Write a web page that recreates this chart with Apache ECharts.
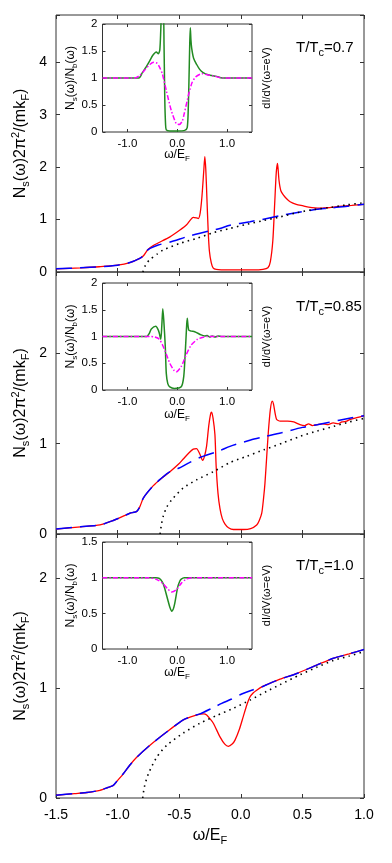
<!DOCTYPE html>
<html>
<head>
<meta charset="utf-8">
<script src="https://cdn.jsdelivr.net/npm/echarts@6.0.0/dist/echarts.min.js"></script>
<style>
  html, body { margin: 0; padding: 0; background: #fff; }
  #chart { width: 392px; height: 863px; }
</style>
</head>
<body>
<div id="chart"></div>
<script>
// ---- data: [omega/E_F, value] ----
// T/Tc = 0.7
const nsRed07 = [[-1.5,0.06],[-1.3,0.08],[-1.15,0.10],[-1.0,0.13],[-0.9,0.18],[-0.82,0.26],[-0.79,0.31],[-0.76,0.41],[-0.737,0.46],[-0.7,0.52],[-0.575,0.67],[-0.494,0.80],[-0.44,0.90],[-0.41,0.99],[-0.386,1.04],[-0.36,1.03],[-0.345,1.02],[-0.33,1.12],[-0.315,1.45],[-0.30,1.95],[-0.292,2.20],[-0.284,1.95],[-0.275,1.40],[-0.265,0.80],[-0.255,0.40],[-0.24,0.18],[-0.225,0.08],[-0.2,0.05],[-0.1,0.04],[0.0,0.04],[0.1,0.04],[0.18,0.05],[0.22,0.08],[0.24,0.20],[0.26,0.60],[0.275,1.30],[0.288,1.90],[0.298,2.07],[0.31,1.75],[0.325,1.55],[0.345,1.47],[0.37,1.40],[0.40,1.34],[0.45,1.29],[0.507,1.26],[0.55,1.235],[0.64,1.215],[0.7,1.225],[0.8,1.25],[0.9,1.27],[1.0,1.29]];
const nbBlue07 = [[-1.5,0.06],[-1.3,0.08],[-1.15,0.10],[-1.0,0.13],[-0.9,0.18],[-0.82,0.26],[-0.79,0.31],[-0.76,0.41],[-0.737,0.45],[-0.67,0.515],[-0.58,0.567],[-0.418,0.687],[-0.331,0.74],[-0.169,0.83],[-0.088,0.89],[0.075,0.96],[0.17,1.0],[0.33,1.08],[0.426,1.12],[0.616,1.195],[0.7,1.215],[0.85,1.25],[1.0,1.29]];
const free07 = [[-0.795,0],[-0.78,0.10],[-0.76,0.18],[-0.737,0.24],[-0.68,0.34],[-0.629,0.42],[-0.494,0.547],[-0.358,0.64],[-0.223,0.75],[-0.088,0.83],[0.048,0.91],[0.183,0.98],[0.318,1.05],[0.454,1.13],[0.589,1.19],[0.72,1.23],[0.86,1.28],[1.0,1.32]];
const ratio07 = [[-1.5,1],[-0.77,1],[-0.7,1.1],[-0.62,1.21],[-0.55,1.32],[-0.49,1.42],[-0.42,1.48],[-0.38,1.45],[-0.35,1.52],[-0.33,1.9],[-0.31,2.3],[-0.28,2.3],[-0.265,1.6],[-0.25,0.6],[-0.235,0.15],[-0.22,0.04],[-0.15,0.02],[0.0,0.02],[0.15,0.03],[0.2,0.08],[0.22,0.4],[0.235,0.95],[0.25,1.6],[0.262,1.93],[0.275,1.7],[0.29,1.55],[0.33,1.36],[0.39,1.25],[0.45,1.16],[0.52,1.10],[0.62,1.06],[0.79,1.03],[0.9,1.0],[1.5,1]];
const didv07 = [[-1.5,1],[-0.85,1],[-0.75,1.05],[-0.65,1.15],[-0.55,1.25],[-0.47,1.29],[-0.40,1.27],[-0.36,1.21],[-0.30,1.08],[-0.22,0.77],[-0.12,0.40],[-0.02,0.155],[0.04,0.14],[0.1,0.2],[0.14,0.34],[0.24,0.74],[0.30,0.92],[0.37,1.02],[0.5,1.08],[0.6,1.06],[0.72,1.04],[0.92,1.0],[1.5,1]];

// T/Tc = 0.85
const nsRed085 = [[-1.5,0.055],[-1.3,0.08],[-1.143,0.10],[-1.035,0.15],[-0.95,0.20],[-0.9,0.23],[-0.87,0.24],[-0.845,0.25],[-0.82,0.30],[-0.79,0.40],[-0.71,0.535],[-0.65,0.61],[-0.575,0.69],[-0.5,0.78],[-0.467,0.83],[-0.42,0.90],[-0.386,0.94],[-0.36,0.945],[-0.331,0.88],[-0.31,0.815],[-0.295,0.86],[-0.278,0.97],[-0.26,1.20],[-0.245,1.33],[-0.237,1.35],[-0.225,1.28],[-0.21,1.10],[-0.2,0.75],[-0.185,0.45],[-0.169,0.28],[-0.15,0.17],[-0.128,0.11],[-0.1,0.07],[-0.06,0.05],[0.02,0.05],[0.08,0.06],[0.129,0.10],[0.15,0.15],[0.17,0.23],[0.185,0.40],[0.196,0.56],[0.21,0.85],[0.223,1.12],[0.24,1.38],[0.255,1.47],[0.265,1.44],[0.29,1.27],[0.32,1.25],[0.38,1.25],[0.43,1.24],[0.48,1.21],[0.52,1.20],[0.55,1.22],[0.58,1.20],[0.62,1.21],[0.66,1.22],[0.7,1.21],[0.75,1.23],[0.79,1.22],[0.82,1.24],[0.86,1.25],[0.89,1.27],[0.95,1.29],[1.0,1.31]];
const nbBlue085 = [[-1.5,0.055],[-1.3,0.08],[-1.143,0.10],[-1.035,0.15],[-0.95,0.20],[-0.9,0.23],[-0.87,0.24],[-0.845,0.25],[-0.82,0.30],[-0.79,0.40],[-0.71,0.535],[-0.65,0.61],[-0.575,0.69],[-0.5,0.73],[-0.418,0.79],[-0.345,0.84],[-0.174,0.92],[-0.088,0.97],[0.08,1.04],[0.17,1.07],[0.33,1.12],[0.5,1.18],[0.62,1.21],[0.8,1.26],[1.0,1.31]];
const free085 = [[-0.655,0],[-0.645,0.10],[-0.629,0.20],[-0.6,0.30],[-0.56,0.38],[-0.467,0.51],[-0.358,0.60],[-0.223,0.69],[-0.088,0.79],[0.048,0.86],[0.183,0.93],[0.345,1.01],[0.48,1.08],[0.62,1.14],[0.75,1.19],[0.88,1.24],[1.0,1.28]];
const ratio085 = [[-1.5,1],[-0.61,1],[-0.56,1.06],[-0.52,1.14],[-0.43,1.19],[-0.38,1.12],[-0.36,1.06],[-0.33,0.95],[-0.31,1.2],[-0.29,1.52],[-0.27,1.3],[-0.24,0.81],[-0.22,0.31],[-0.19,0.12],[-0.15,0.06],[-0.06,0.03],[0.08,0.06],[0.13,0.25],[0.16,0.69],[0.18,1.05],[0.2,1.34],[0.23,1.12],[0.28,1.1],[0.35,1.09],[0.48,1.03],[0.55,1.01],[0.6,1.02],[0.65,0.99],[0.7,1.01],[0.76,0.99],[0.82,1.01],[0.9,1.0],[1.5,1]];
const didv085 = [[-1.5,1],[-0.55,1],[-0.45,0.99],[-0.36,0.95],[-0.3,0.85],[-0.24,0.72],[-0.15,0.50],[-0.06,0.36],[-0.02,0.34],[0.08,0.44],[0.18,0.66],[0.28,0.84],[0.41,0.95],[0.5,0.98],[0.61,1.0],[1.5,1]];

// T/Tc = 1.0
const nsRed10 = [[-1.5,0.025],[-1.35,0.04],[-1.25,0.05],[-1.143,0.07],[-1.08,0.095],[-1.035,0.115],[-1.0,0.16],[-0.954,0.22],[-0.9,0.30],[-0.845,0.37],[-0.737,0.48],[-0.602,0.60],[-0.467,0.71],[-0.4,0.74],[-0.331,0.763],[-0.3,0.765],[-0.277,0.754],[-0.25,0.72],[-0.223,0.68],[-0.169,0.556],[-0.13,0.49],[-0.101,0.47],[-0.07,0.49],[-0.047,0.526],[-0.01,0.63],[0.02,0.74],[0.05,0.85],[0.075,0.92],[0.1,0.955],[0.129,0.98],[0.17,1.01],[0.21,1.03],[0.318,1.08],[0.45,1.13],[0.62,1.21],[0.75,1.27],[0.88,1.31],[1.0,1.35]];
const nbBlue10 = [[-1.5,0.025],[-1.35,0.04],[-1.25,0.05],[-1.143,0.07],[-1.08,0.095],[-1.035,0.115],[-1.0,0.16],[-0.954,0.22],[-0.9,0.30],[-0.845,0.37],[-0.737,0.48],[-0.602,0.60],[-0.467,0.71],[-0.4,0.74],[-0.331,0.765],[-0.236,0.815],[-0.155,0.86],[-0.074,0.90],[0.007,0.945],[0.088,0.98],[0.17,1.01],[0.21,1.03],[0.318,1.08],[0.45,1.13],[0.62,1.21],[0.75,1.27],[0.88,1.31],[1.0,1.35]];
const free10 = [[-0.796,0],[-0.783,0.10],[-0.75,0.22],[-0.683,0.37],[-0.6,0.48],[-0.467,0.59],[-0.331,0.68],[-0.196,0.75],[-0.061,0.815],[0.075,0.89],[0.21,0.97],[0.318,1.03],[0.48,1.12],[0.62,1.19],[0.75,1.25],[0.88,1.29],[1.0,1.33]];
const ratio10 = [[-1.5,1],[-0.43,1],[-0.36,0.99],[-0.3,0.94],[-0.26,0.87],[-0.19,0.69],[-0.15,0.59],[-0.11,0.53],[-0.08,0.56],[-0.05,0.64],[0.01,0.87],[0.05,0.95],[0.08,0.98],[0.14,1.0],[1.5,1]];
const didv10 = [[-1.5,1],[-0.6,1],[-0.43,0.98],[-0.29,0.92],[-0.19,0.84],[-0.11,0.80],[-0.02,0.83],[0.08,0.92],[0.18,0.98],[0.32,1.0],[1.5,1]];

const tempLabels = ['0.7', '0.85', '1.0'];
const insetXTicks = [-1, 0, 1];

// ---- layout ----
const FONT = '"Liberation Sans", Arial, Helvetica, sans-serif';
const panels = [
  { top: 15,  height: 257, ymax: 4.9, red: nsRed07,  blue: nbBlue07,  dot: free07 },
  { top: 272, height: 262, ymax: 2.9, red: nsRed085, blue: nbBlue085, dot: free085 },
  { top: 534, height: 264, ymax: 2.4, red: nsRed10,  blue: nbBlue10,  dot: free10 }
];
const insets = [
  { top: 24,  height: 108, ymax: 2,   green: ratio07,  mag: didv07 },
  { top: 283, height: 107, ymax: 2,   green: ratio085, mag: didv085 },
  { top: 542, height: 107, ymax: 1.5, green: ratio10,  mag: didv10 }
];

const grid = [], xAxis = [], yAxis = [], series = [], graphic = [];

function addGrid(g, box, isInset) {
  grid.push({
    left: box.left, width: box.width, top: box.top, height: box.height,
    show: true, borderColor: '#333', borderWidth: 1,
    backgroundColor: isInset ? '#fff' : 'transparent',
    z: isInset ? 10 : 0
  });
  const tickLen = isInset ? 3 : 4;
  const z = isInset ? 10 : 0;
  ['bottom', 'top'].forEach(pos => {
    const showLab = pos === 'bottom' && (isInset || g === 2);
    xAxis.push({
      gridIndex: g, type: 'value', position: pos, z,
      min: -1.5, max: isInset ? 1.5 : 1.0,
      interval: isInset ? undefined : 0.5,
      axisLine: { show: false, onZero: false },
      splitLine: { show: false },
      axisTick: isInset
        ? { inside: true, length: tickLen, lineStyle: { color: '#333' }, customValues: insetXTicks }
        : { inside: true, length: tickLen, lineStyle: { color: '#333' } },
      axisLabel: isInset
        ? { show: showLab, customValues: insetXTicks, color: '#000', fontFamily: FONT, fontSize: 11.5, margin: 6, formatter: v => v.toFixed(1) }
        : { show: showLab, color: '#000', fontFamily: FONT, fontSize: 14, margin: 10, formatter: v => v.toFixed(1) }
    });
  });
  ['left', 'right'].forEach(pos => {
    yAxis.push({
      gridIndex: g, type: 'value', position: pos, z,
      min: 0, max: box.ymax, interval: isInset ? 0.5 : 1,
      axisLine: { show: false, onZero: false },
      splitLine: { show: false },
      axisTick: { inside: true, length: tickLen, lineStyle: { color: '#333' } },
      axisLabel: {
        show: pos === 'left', color: '#000', fontFamily: FONT,
        fontSize: isInset ? 11.5 : 14, margin: isInset ? 5 : 9,
        formatter: v => (isInset ? String(v) : (Number.isInteger(v) ? String(v) : ''))
      }
    });
  });
}

function line(data, g, color, type, width, z) {
  return {
    type: 'line', data, xAxisIndex: 2 * g, yAxisIndex: 2 * g,
    symbol: 'none', showSymbol: false, smooth: 0.25, silent: true, animation: false,
    clip: true, z,
    lineStyle: { color, type, width, cap: 'butt' }
  };
}

const rich = fs => ({
  sb: { fontSize: Math.round(fs * 0.7), fontFamily: FONT, fill: '#000', verticalAlign: 'bottom', lineHeight: Math.round(fs * 0.7) },
  sp: { fontSize: Math.round(fs * 0.7), fontFamily: FONT, fill: '#000', verticalAlign: 'top', lineHeight: Math.round(fs * 0.7) }
});

function label(x, y, text, fs, align, rot) {
  return {
    type: 'text', x, y, rotation: rot || 0, silent: true, z: 100,
    style: {
      text, fill: '#000', fontSize: fs, fontFamily: FONT,
      align: align || 'center', verticalAlign: 'middle',
      lineHeight: Math.round(fs * 1.3), rich: rich(fs)
    }
  };
}

panels.forEach((p, i) => {
  addGrid(i, { left: 56, width: 308, top: p.top, height: p.height, ymax: p.ymax }, false);
  series.push(line(p.red, i, '#ff0000', 'solid', 1.3, 2));
  series.push(line(p.blue, i, '#0000ff', [16, 8], 1.5, 3));
  series.push(line(p.dot, i, '#000', [1.5, 4.2], 1.6, 4));
  graphic.push(label(21, p.top + p.height / 2, 'N{sb|s}(ω)2π{sp|2}/(mk{sb|F})', 16, 'center', Math.PI / 2));
});
graphic.push(label(296, 48, 'T/T{sb|c}=' + tempLabels[0], 15, 'left'));
graphic.push(label(296, 307, 'T/T{sb|c}=' + tempLabels[1], 15, 'left'));
graphic.push(label(296, 566, 'T/T{sb|c}=' + tempLabels[2], 15, 'left'));
graphic.push(label(210, 836, 'ω/E{sb|F}', 16, 'center'));

const insetXLabelY = [155, 415, 673];
insets.forEach((q, i) => {
  const g = 3 + i;
  addGrid(g, { left: 102.5, width: 149.5, top: q.top, height: q.height, ymax: q.ymax }, true);
  series.push(line(q.green, g, '#228b22', 'solid', 1.5, 11));
  series.push(line(q.mag, g, '#ff00ff', [5, 2, 1.5, 2], 1.5, 12));
  const cy = q.top + q.height / 2;
  graphic.push(label(71, cy, 'N{sb|s}(ω)/N{sb|b}(ω)', 12, 'center', Math.PI / 2));
  graphic.push(label(266.5, cy, 'dI/dV(ω=eV)', 11, 'center', Math.PI / 2));
  graphic.push(label(177, insetXLabelY[i], 'ω/E{sb|F}', 12, 'center'));
});

const chart = echarts.init(document.getElementById('chart'), null, { renderer: 'canvas' });
chart.setOption({
  animation: false,
  backgroundColor: '#fff',
  grid, xAxis, yAxis, series, graphic
});
</script>
</body>
</html>
